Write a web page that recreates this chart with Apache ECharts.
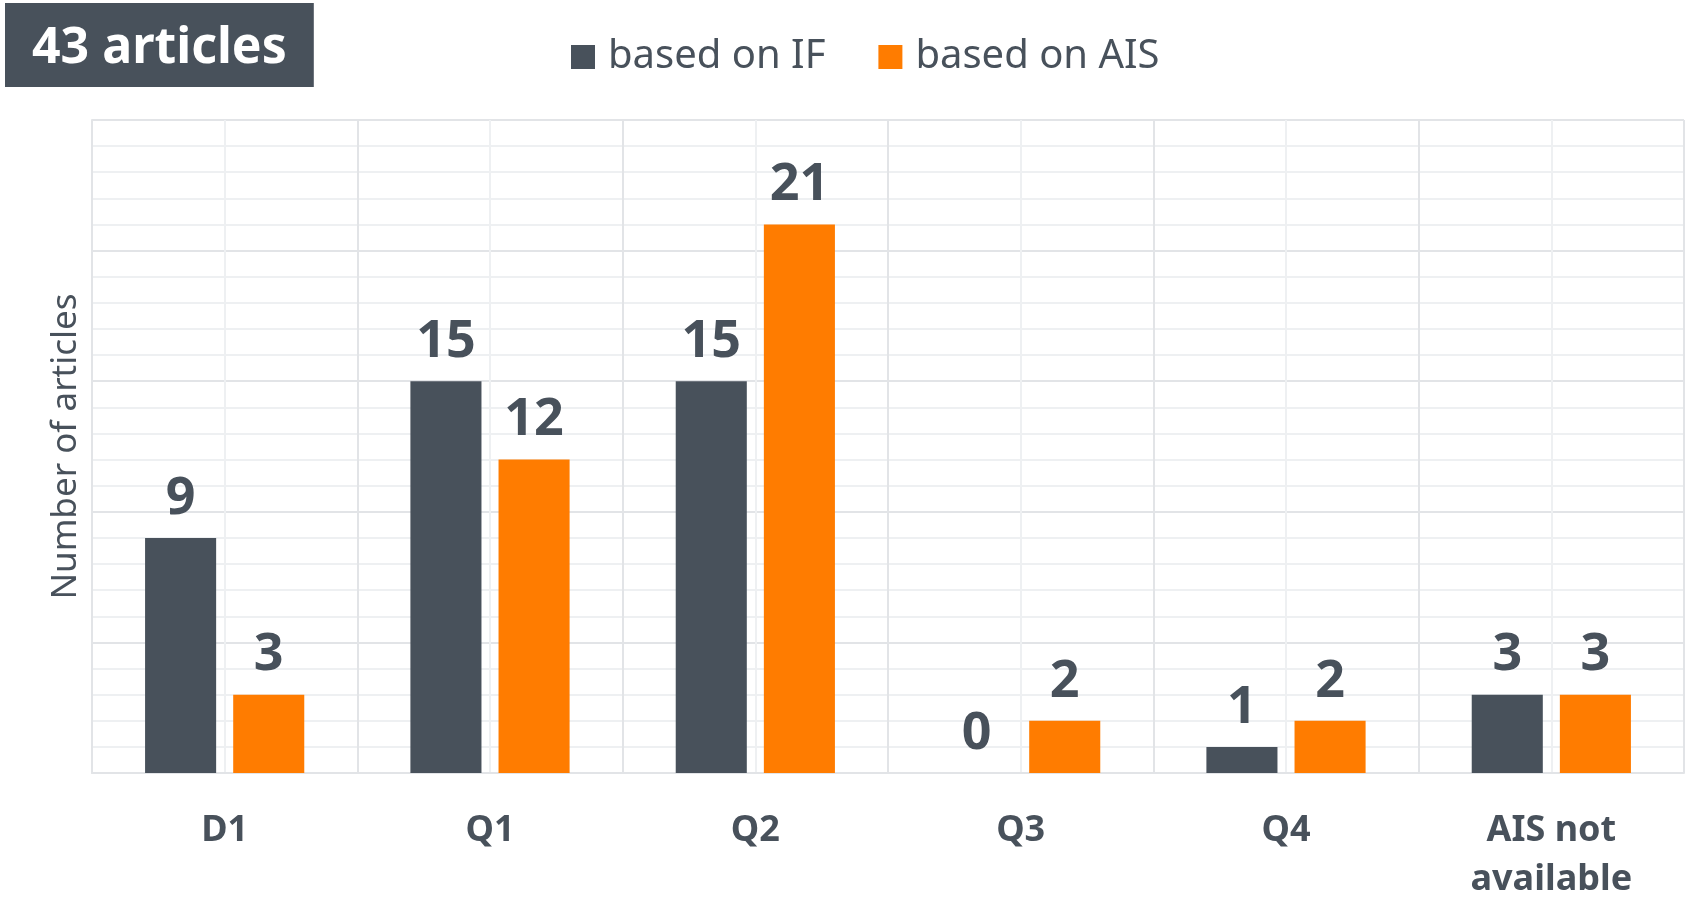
<!DOCTYPE html>
<html>
<head>
<meta charset="utf-8">
<script src="https://cdn.jsdelivr.net/npm/echarts@6/dist/echarts.min.js"></script>
<style>
html,body{margin:0;padding:0;background:#fff;}
#chart{width:1691px;height:900px;}
</style>
</head>
<body>
<div id="chart"></div>
<script>
const categories = ['D1', 'Q1', 'Q2', 'Q3', 'Q4', 'AIS not\navailable'];
const seriesNames = ['based on IF', 'based on AIS'];
const basedOnIF = [9, 15, 15, 0, 1, 3];
const basedOnAIS = [3, 12, 21, 2, 2, 3];
const titleText = '43 articles';
const yAxisName = 'Number of articles';

const DARK = '#48515b';
const ORANGE = '#ff7c00';
const FONT = '"Noto Sans", "Open Sans", sans-serif';

const chart = echarts.init(document.getElementById('chart'), null, {renderer: 'canvas'});

const labelCfg = {
  show: true,
  position: 'top',
  distance: 13,
  color: DARK,
  fontFamily: FONT,
  fontWeight: 'bold',
  fontSize: 52
};

chart.setOption({
  animation: false,
  backgroundColor: '#ffffff',
  textStyle: {fontFamily: FONT},
  title: {
    text: titleText,
    left: 5,
    top: 3,
    backgroundColor: DARK,
    padding: [18, 27, 10, 27],
    textStyle: {
      color: '#ffffff',
      fontFamily: FONT,
      fontWeight: 'bold',
      fontSize: 50,
      lineHeight: 56
    }
  },
  legend: {
    data: seriesNames,
    left: 566,
    top: 32,
    itemWidth: 24,
    itemHeight: 24,
    itemGap: 53,
    icon: 'rect',
    textStyle: {
      color: DARK,
      fontFamily: FONT,
      fontSize: 40,
      padding: [0, 0, 0, 8]
    }
  },
  grid: {left: 92, right: 7, top: 120, bottom: 127, containLabel: false, outerBoundsMode: 'none'},
  xAxis: [{
    type: 'category',
    data: categories,
    boundaryGap: true,
    axisLine: {show: true, lineStyle: {color: '#e2e4e7', width: 2}},
    axisTick: {show: false},
    splitLine: {show: true, lineStyle: {color: '#e2e4e7', width: 2}},
    axisLabel: {
      margin: 33,
      color: DARK,
      fontFamily: FONT,
      fontWeight: 'bold',
      fontSize: 36,
      lineHeight: 49,
      interval: 0
    }
  }, {
    type: 'value',
    min: 0,
    max: 6,
    interval: 1,
    show: true,
    axisLine: {show: false},
    axisTick: {show: false},
    axisLabel: {show: false},
    splitLine: {show: false},
    minorTick: {show: false, splitNumber: 2},
    minorSplitLine: {show: true, lineStyle: {color: '#eef0f2', width: 2}}
  }],
  yAxis: {
    type: 'value',
    min: 0,
    max: 25,
    interval: 5,
    name: yAxisName,
    nameLocation: 'middle',
    nameGap: 8,
    nameTextStyle: {color: DARK, fontFamily: FONT, fontSize: 35},
    axisLine: {show: true, lineStyle: {color: '#e2e4e7', width: 2}},
    axisTick: {show: false},
    axisLabel: {show: false},
    splitLine: {show: true, lineStyle: {color: '#e2e4e7', width: 2}},
    minorTick: {show: false, splitNumber: 5},
    minorSplitLine: {show: true, lineStyle: {color: '#eef0f2', width: 2}}
  },
  series: [{
    name: seriesNames[0],
    type: 'bar',
    data: basedOnIF,
    itemStyle: {color: DARK},
    barGap: '24%',
    barCategoryGap: '40%',
    label: labelCfg
  }, {
    name: seriesNames[1],
    type: 'bar',
    data: basedOnAIS,
    itemStyle: {color: ORANGE},
    barGap: '24%',
    barCategoryGap: '40%',
    label: labelCfg
  }]
});
</script>
</body>
</html>
